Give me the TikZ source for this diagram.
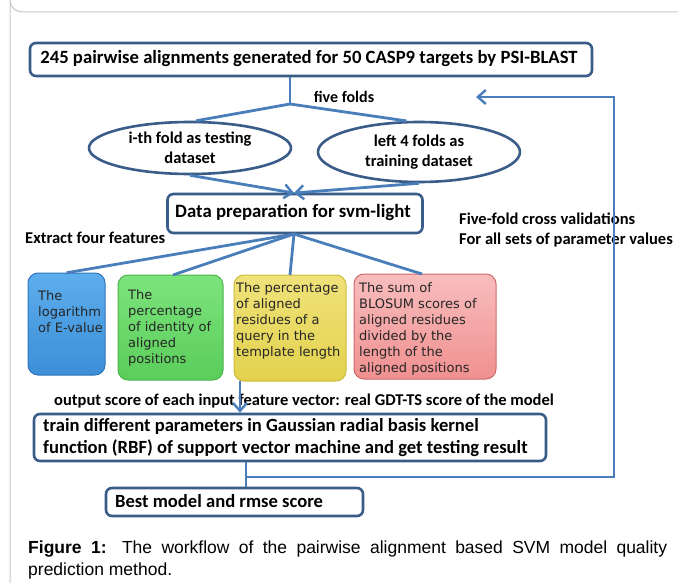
\documentclass[tikz,border=0pt]{standalone}
\usepackage{fontspec}
\setmainfont{Carlito}
\newfontfamily\featfont{DejaVu Sans}
\newfontfamily\capfont{Liberation Sans}
\usetikzlibrary{shapes.geometric,arrows.meta}
\definecolor{boxedge}{HTML}{3A5C88}
\definecolor{conn}{HTML}{4A7EBB}
\definecolor{frame}{HTML}{C8C8C8}
\definecolor{bluetop}{HTML}{5CAEEC}
\definecolor{bluebot}{HTML}{3C8ED8}
\definecolor{blueedge}{HTML}{2F74BA}
\definecolor{greentop}{HTML}{7DE47D}
\definecolor{greenbot}{HTML}{5ACD5A}
\definecolor{greenedge}{HTML}{4DB34D}
\definecolor{yeltop}{HTML}{F0E27A}
\definecolor{yelbot}{HTML}{E2D24E}
\definecolor{yeledge}{HTML}{CDBB3A}
\definecolor{pinktop}{HTML}{F8BDBD}
\definecolor{pinkbot}{HTML}{F09090}
\definecolor{pinkedge}{HTML}{D06868}
\tikzset{
  flowbox/.style={draw=boxedge,line width=2.6pt,rounded corners=6pt,fill=white},
  ellbox/.style={ellipse,draw=boxedge,line width=2.6pt,fill=white,inner sep=0pt,align=center,font=\fontsize{16.5}{19.5}\selectfont\bfseries},
  conline/.style={draw=conn,line width=2.8pt},
  arr/.style={-{Straight Barb[length=8pt,width=14pt,line width=2.4pt]}},
  feat/.style={rounded corners=10pt,line width=1pt},
  feattext/.style={anchor=north west,inner sep=0pt,align=left,font=\featfont\fontsize{13}{16}\selectfont,text=black!85},
  lbl/.style={inner sep=0pt,font=\fontsize{16.5}{20}\selectfont\bfseries}
}
\begin{document}
\begin{tikzpicture}[x=1pt,y=-1pt]
\useasboundingbox (0,0) rectangle (678,583);
% outer frame
\draw[frame,line width=1pt] (678,12) -- (22,12) arc[start angle=90,end angle=180,radius=12] -- (10,583);

% top box
\node[flowbox,minimum width=562pt,minimum height=33pt] (top) at (311,59.5) {};
\node[inner sep=0pt,font=\fontsize{18.7}{20}\selectfont\bfseries] (toptxt) at (309,59) {245 pairwise alignments generated for 50 CASP9 targets by PSI-BLAST};
\coordinate (split) at (290,104);
\node[lbl,font=\fontsize{16}{19}\selectfont\bfseries] (ff) at (344,97) {five folds};

% ellipses
\node[ellbox,minimum width=202pt,minimum height=52pt] (ell1) at (190,148) {i-th fold as testing\\dataset};
\node[ellbox,minimum width=202pt,minimum height=60pt,font=\fontsize{16.5}{20}\selectfont\bfseries] (ell2) at (419,152) {left 4 folds as\\training dataset};

% data prep box
\node[flowbox,minimum width=255pt,minimum height=39pt] (prep) at (295,213.5) {};
\node[inner sep=0pt,font=\fontsize{18.8}{20}\selectfont\bfseries] (preptxt) at (293,212) {Data preparation for svm-light};

\node[lbl,anchor=west] (ext) at (25,238) {Extract four features};
\node[lbl,anchor=west,align=left] (cv) at (459,230) {Five-fold cross validations\\For all sets of parameter values};

% feature boxes
\shade[feat,top color=bluetop,bottom color=bluebot,draw=blueedge] (28,273) rectangle (105,375);
\node[minimum width=77pt,minimum height=102pt,draw=none] (f1) at (66.5,324) {};
\shade[feat,top color=greentop,bottom color=greenbot,draw=greenedge] (118,275) rectangle (223,380);
\node[minimum width=105pt,minimum height=105pt,draw=none] (f2) at (170.5,327.5) {};
\shade[feat,top color=yeltop,bottom color=yelbot,draw=yeledge] (234,275) rectangle (346,381);
\node[minimum width=112pt,minimum height=106pt,draw=none] (f3) at (290,328) {};
\shade[feat,top color=pinktop,bottom color=pinkbot,draw=pinkedge] (354,274) rectangle (496,379);
\node[minimum width=142pt,minimum height=105pt,draw=none] (f4) at (425,326.5) {};

\node[feattext] (t1) at (38,290) {The\\logarithm\\of E-value};
\node[feattext] (t2) at (128,289) {The\\percentage\\of identity of\\aligned\\positions};
\node[feattext] (t3) at (236,282) {The percentage\\of aligned\\residues of a\\query in the\\template length};
\node[feattext] (t4) at (359,282) {The sum of\\BLOSUM scores of\\aligned residues\\divided by the\\length of the\\aligned positions};

% output label
\node[lbl,anchor=west] (out) at (54,401) {output score of each input feature vector: real GDT-TS score of the model};

% train box
\node[flowbox,minimum width=512pt,minimum height=47pt] (train) at (290,437.5) {};
\node[anchor=west,align=left,inner sep=0pt,font=\fontsize{18.6}{22}\selectfont\bfseries] (traintxt) at (43,438) {train different parameters in Gaussian radial basis kernel\\function (RBF) of support vector machine and get testing result};

% best model
\node[flowbox,minimum width=257pt,minimum height=28pt] (best) at (234.5,502) {};
\node[anchor=west,inner sep=0pt,font=\fontsize{18.6}{20}\selectfont\bfseries] (besttxt) at (115,501) {Best model and rmse score};

% caption
\node[anchor=north west,inner sep=0pt,text width=639pt,align=justify,font=\capfont\fontsize{17.5}{22}\selectfont] (cap) at (28,541) {\textbf{Figure 1:} The workflow of the pairwise alignment based SVM model quality\linebreak prediction method.};

% connectors
\draw[conline] (top.south -| split) -- (split);
\draw[conline] (split) -- (ell1.77);
\draw[conline] (split) -- (ell2.112);
\coordinate (pin) at (294,193);
\draw[conline,arr] (ell1.south) -- (pin);
\draw[conline,arr] (ell2.south) -- (pin);
\coordinate (pout) at (294,234);
\draw[conline] (pout) -- (f1.north);
\draw[conline] (pout) -- (173,275);
\draw[conline] (pout) -- (f3.north);
\draw[conline] (pout) -- (422,274);
\coordinate (f3b) at (240,381);
\draw[conline,arr] (f3b) -- (train.north -| f3b);
\coordinate (j1) at (246,477);
\coordinate (loopc) at (614,97);
\coordinate (loopend) at (476,97);
\draw[conline] (train.south -| j1) -- (j1) -- (best.north -| j1);
\draw[conline,arr] (j1) -| (loopc) -- (loopend);
\end{tikzpicture}
\end{document}
